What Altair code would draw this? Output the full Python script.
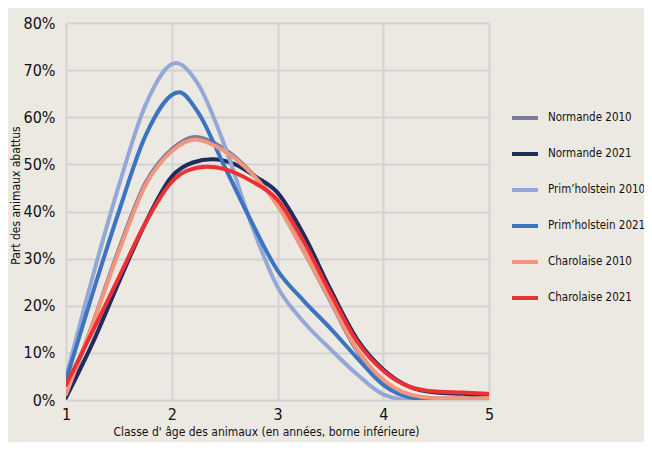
import altair as alt
import pandas as pd

# ---- data (percent of animals) ----
series = ["Normande 2010", "Normande 2021", "Prim’holstein 2010",
          "Prim’holstein 2021", "Charolaise 2010", "Charolaise 2021"]
colors = ["#7a7b9c", "#1f2c5c", "#93a8d6", "#3b74c1", "#f2977d", "#ee2f33"]
opacities = [1.0, 1.0, 1.0, 1.0, 0.6, 1.0]

normande_2010_x = [1, 1.25, 1.5, 1.75, 2, 2.22, 2.5, 2.75, 3, 3.25, 3.5, 3.75, 4, 4.25, 4.5, 4.75, 5]
normande_2010_y = [0.6, 16, 32, 46, 53.2, 55.8, 53.2, 48.3, 41.5, 31.5, 21, 10.5, 4, 1.0, 0.3, 0.3, 0.4]

normande_2021_x = [1, 1.25, 1.5, 1.75, 2, 2.2, 2.38, 2.6, 2.8, 3, 3.25, 3.5, 3.75, 4, 4.25, 4.5, 4.75, 5]
normande_2021_y = [0.5, 12, 25, 37.5, 47.4, 50.4, 51.1, 50.0, 47.3, 44, 35, 23.5, 13, 6.5, 2.8, 1.6, 1.3, 0.9]

prim_2010_x = [1, 1.25, 1.5, 1.75, 2.04, 2.25, 2.5, 2.75, 3, 3.25, 3.5, 3.75, 4, 4.25, 4.5, 4.75, 5]
prim_2010_y = [4.8, 26, 45.5, 62.5, 71.5, 67, 54, 37.5, 24, 16.5, 10.8, 5.5, 1.2, 0.0, 0.0, 0.1, 0.3]

prim_2021_x = [1, 1.25, 1.5, 1.75, 2.07, 2.25, 2.5, 2.75, 3, 3.25, 3.5, 3.75, 4, 4.25, 4.5, 4.75, 5]
prim_2021_y = [4.2, 22.5, 40, 56, 65.3, 61, 49.5, 38, 27.5, 21, 15.2, 9, 3.2, 0.6, 0.1, 0.2, 0.4]

charolaise_2010_x = [1, 1.25, 1.5, 1.75, 2, 2.22, 2.5, 2.75, 3, 3.25, 3.5, 3.75, 4, 4.25, 4.5, 4.75, 5]
charolaise_2010_y = [1.2, 16, 31.5, 45.5, 52.8, 55.3, 52.8, 48.2, 41.3, 31.5, 21.2, 10.8, 4.3, 1.2, 0.4, 0.3, 0.4]

charolaise_2021_x = [1, 1.25, 1.5, 1.75, 2, 2.15, 2.33, 2.5, 2.75, 3, 3.25, 3.5, 3.75, 4, 4.25, 4.5, 4.75, 5]
charolaise_2021_y = [3.2, 14.5, 26, 37.5, 46.3, 48.7, 49.5, 49.0, 46.5, 42.5, 33.5, 22.7, 12.5, 6.2, 2.8, 1.8, 1.6, 1.3]

y_ticks = [0, 10, 20, 30, 40, 50, 60, 70, 80]
x_ticks = [1, 2, 3, 4, 5]

all_x = [normande_2010_x, normande_2021_x, prim_2010_x, prim_2021_x, charolaise_2010_x, charolaise_2021_x]
all_y = [normande_2010_y, normande_2021_y, prim_2010_y, prim_2021_y, charolaise_2010_y, charolaise_2021_y]

rows = []
for k, (name, xs, ys) in enumerate(zip(series, all_x, all_y)):
    for x, y in zip(xs, ys):
        rows.append({"serie": name, "rank": k, "age": x, "part": y})
df = pd.DataFrame(rows)

FONT = "Liberation Sans Narrow, DejaVu Sans Condensed, sans-serif"
BG = "#ece9e2"

chart = alt.Chart(df).mark_line(
    strokeWidth=4, interpolate="monotone", clip=True, strokeCap="round"
).encode(
    x=alt.X("age:Q",
            scale=alt.Scale(domain=[1, 5], nice=False, zero=False),
            axis=alt.Axis(values=x_ticks, format="d",
                          title="Classe d' âge des animaux (en années, borne inférieure)",
                          titleX=200, titleAlign="center",
                          labelFlush=False, labelPadding=6, titlePadding=4)),
    y=alt.Y("part:Q",
            scale=alt.Scale(domain=[0, 80], nice=False),
            axis=alt.Axis(values=y_ticks, labelExpr="datum.value + '%'",
                          title="Part des animaux abattus",
                          titleX=-51, titleY=172, titleAlign="center",
                          titleBaseline="middle", titleAngle=270,
                          labelPadding=11)),
    color=alt.Color("serie:N",
                    scale=alt.Scale(domain=series, range=colors),
                    legend=alt.Legend(title=None, orient="none",
                                      legendX=444, legendY=80,
                                      symbolType="stroke", symbolSize=676,
                                      symbolStrokeWidth=4, labelFontSize=11.5,
                                      labelOffset=8, rowPadding=13, padding=0,
                                      labelFont=FONT, labelColor="#111111",
                                      labelLimit=200)),
    strokeOpacity=alt.StrokeOpacity("serie:N",
                                    scale=alt.Scale(domain=series, range=opacities),
                                    legend=None),
    order=alt.Order("age:Q"),
).properties(
    width=423, height=377,
    autosize=alt.AutoSizeParams(type="none"),
    padding={"left": 58, "top": 15, "right": 155, "bottom": 42},
    background=BG,
).configure_view(
    strokeWidth=0, fill=BG
).configure_axis(
    grid=True, gridColor="#d3d3d3", gridWidth=2,
    domain=False, ticks=False,
    labelFont=FONT, labelFontSize=16, labelColor="#111111",
    titleFont=FONT, titleFontSize=12, titleFontWeight="normal", titleColor="#111111",
)

chart.save("out.html", embed_options={"renderer": "svg", "actions": False})
